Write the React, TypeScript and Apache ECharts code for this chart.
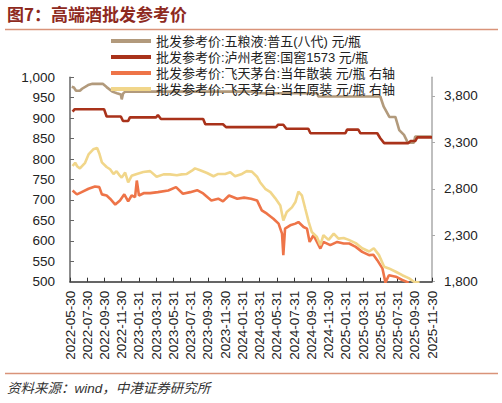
import React, { useEffect, useRef } from "react";
import * as echarts from "echarts";

// x positions are months since 2022-05-30
const tickLabels = [
  "2022-05-30", "2022-07-30", "2022-09-30", "2022-11-30",
  "2023-01-31", "2023-03-31", "2023-05-31", "2023-07-31", "2023-09-30", "2023-11-30",
  "2024-01-31", "2024-03-31", "2024-05-31", "2024-07-31", "2024-09-30", "2024-11-30",
  "2025-01-31", "2025-03-31", "2025-05-31", "2025-07-31", "2025-09-30", "2025-11-30",
];

const seriesNames = [
  "批发参考价:五粮液:普五(八代) 元/瓶",
  "批发参考价:泸州老窖:国窖1573 元/瓶",
  "批发参考价:飞天茅台:当年散装 元/瓶 右轴",
  "批发参考价:飞天茅台:当年原装 元/瓶 右轴",
];

const wuliangye: [number, number][] = [
  [0.2, 977], [0.45, 975], [0.7, 967], [1.15, 967], [1.4, 972], [2.1, 981], [2.6, 984],
  [3.8, 984], [4.25, 976], [4.9, 965], [5.45, 961], [5.9, 958], [6.0, 946], [6.15, 960],
  [6.4, 965], [21.5, 965], [21.6, 961], [28.7, 961], [28.8, 953], [36.0, 953], [36.4, 928],
  [37.05, 903], [37.75, 903], [38.2, 871], [38.75, 859], [39.15, 842], [39.5, 840],
  [39.9, 840], [40.05, 855], [42, 855],
];

const guojiao: [number, number][] = [
  [0.3, 916], [0.55, 922], [3.95, 922], [4.25, 904], [5.9, 904], [6.15, 893], [6.75, 893],
  [6.95, 902], [10.0, 902], [10.2, 908], [10.55, 898], [15.45, 898], [15.7, 885],
  [17.75, 885], [18.1, 878], [23.9, 878], [24.15, 884], [24.75, 884], [25.1, 874],
  [27.65, 874], [27.9, 863], [31.95, 863], [32.15, 872], [33.45, 872], [33.7, 863],
  [35.65, 863], [36.0, 851], [36.45, 839], [39.25, 839], [39.5, 844], [40.05, 844],
  [40.3, 853], [42, 853],
];

const feitianLoose: [number, number][] = [
  [0.3, 2782], [0.8, 2740], [1.35, 2764], [2.15, 2800], [2.9, 2825], [3.4, 2818], [3.7, 2740],
  [4.25, 2728], [4.65, 2693], [5.25, 2630], [5.8, 2675], [6.3, 2740], [6.75, 2665],
  [7.15, 2728], [7.55, 2710], [7.75, 2889], [8.0, 2728], [8.6, 2755], [9.3, 2753],
  [10.2, 2764], [11.4, 2782], [12.3, 2818], [13.1, 2746], [13.95, 2764], [14.75, 2785],
  [15.45, 2750], [16.4, 2675], [17.2, 2693], [17.75, 2664], [18.45, 2728], [19.4, 2693],
  [20.2, 2705], [21.0, 2693], [21.7, 2675], [22.25, 2568], [22.85, 2532], [23.6, 2478],
  [24.2, 2425], [24.6, 2318], [24.75, 2086], [24.95, 2371], [25.55, 2407], [26.15, 2425],
  [26.5, 2442], [27.1, 2389], [27.5, 2371], [27.8, 2228], [28.25, 2300], [29.05, 2157],
  [29.4, 2228], [30.2, 2193], [31.0, 2228], [31.75, 2211], [32.4, 2211], [33.15, 2175],
  [33.9, 2121], [34.7, 2086], [35.2, 2090], [35.65, 2032], [36.25, 1943], [36.6, 1790],
  [37.0, 1870], [37.8, 1854], [38.55, 1818], [39.3, 1790],
];

const feitianOriginal: [number, number][] = [
  [0.3, 3045], [0.6, 3080], [0.85, 3040], [1.15, 3020], [1.45, 3050], [1.75, 3080],
  [2.15, 3170], [2.7, 3225], [3.15, 3240], [3.4, 3180], [3.7, 3085], [4.25, 3035],
  [4.65, 3010], [5.05, 2960], [5.4, 2990], [5.7, 2950], [6.0, 2920], [6.4, 2975],
  [6.75, 2870], [7.15, 2940], [7.75, 2960], [8.5, 2980], [9.3, 2990], [10.05, 2930],
  [10.85, 2955], [11.6, 2955], [12.4, 2945], [12.95, 2955], [13.55, 2960], [14.15, 2995],
  [14.5, 3020], [15.1, 3000], [15.9, 2970], [16.65, 2935], [17.2, 2960], [18.0, 2960],
  [18.6, 2978], [19.15, 2935], [19.95, 2960], [20.5, 2990], [21.1, 2985], [21.7, 2930],
  [22.05, 2871], [22.65, 2800], [23.25, 2764], [23.8, 2700], [24.4, 2621], [24.75, 2460],
  [25.15, 2550], [25.75, 2600], [26.15, 2657], [26.5, 2770], [26.9, 2730], [27.3, 2585],
  [27.7, 2442], [28.05, 2335], [28.65, 2282], [29.05, 2193], [29.4, 2300], [30.0, 2250],
  [30.6, 2318], [31.15, 2264], [31.75, 2270], [32.35, 2250], [33.15, 2215], [33.9, 2160],
  [34.7, 2125], [35.25, 2160], [35.85, 2086], [36.45, 1961], [37.0, 1943], [37.8, 1907],
  [38.55, 1870], [39.35, 1836], [39.9, 1800], [40.55, 1790],
];

const colors = ["#B29A7C", "#A9321A", "#EE7448", "#F1D68A"];
const FONT = "'Liberation Sans', 'Noto Sans CJK SC', sans-serif";

export default function App() {
  const ref = useRef<HTMLDivElement>(null);
  useEffect(() => {
    if (!ref.current) return;
    const chart = echarts.init(ref.current, null, { renderer: "svg" });
    const fmt = (v: number) => v.toLocaleString("en-US");
    chart.setOption({
      animation: false,
      textStyle: { fontFamily: FONT },
      grid: { left: 70, right: 70, top: 77.3, bottom: 121.3, containLabel: false },
      legend: {
        orient: "vertical",
        left: 106,
        top: 29.5,
        itemWidth: 40,
        itemHeight: 14,
        itemGap: 3,
        icon: "path://M0,0H40V4H0Z",
        textStyle: { fontSize: 13, color: "#222", fontFamily: FONT },
        data: seriesNames,
      },
      xAxis: {
        type: "value",
        min: 0,
        max: 42,
        interval: 2,
        splitLine: { show: false },
        axisLine: { lineStyle: { color: "#333", width: 1.5 } },
        axisTick: { inside: true, length: 4, lineStyle: { color: "#333" } },
        axisLabel: {
          rotate: 90,
          fontSize: 13.5,
          color: "#222",
          margin: 9,
          formatter: (v: number) => tickLabels[Math.round(v / 2)] ?? "",
        },
      },
      yAxis: [
        {
          type: "value",
          min: 500,
          max: 1000,
          interval: 50,
          splitLine: { show: false },
          axisLine: { show: true, lineStyle: { color: "#666", width: 1.5 } },
          axisTick: { show: true, inside: true, length: 4, lineStyle: { color: "#666" } },
          axisLabel: { fontSize: 13.5, color: "#222", margin: 15, formatter: fmt },
        },
        {
          type: "value",
          min: 1800,
          max: 4000,
          interval: 500,
          position: "right",
          splitLine: { show: false },
          axisLine: { show: true, lineStyle: { color: "#aaa", width: 1.5 } },
          axisTick: { show: true, inside: false, length: 3, lineStyle: { color: "#aaa" } },
          axisLabel: {
            fontSize: 13.5,
            color: "#222",
            margin: 12,
            showMaxLabel: false,
            formatter: fmt,
          },
        },
      ],
      series: [
        { name: seriesNames[0], data: wuliangye, yAxisIndex: 0, color: colors[0] },
        { name: seriesNames[1], data: guojiao, yAxisIndex: 0, color: colors[1] },
        { name: seriesNames[2], data: feitianLoose, yAxisIndex: 1, color: colors[2] },
        { name: seriesNames[3], data: feitianOriginal, yAxisIndex: 1, color: colors[3] },
      ].map((s) => ({
        ...s,
        type: "line",
        symbol: "none",
        showSymbol: false,
        lineStyle: { width: 2.6, color: s.color },
        itemStyle: { color: s.color },
      })),
      graphic: [
        {
          type: "text",
          left: 7,
          top: 5,
          style: {
            text: "图7：高端酒批发参考价",
            fontSize: 17,
            fontWeight: "bold",
            fill: "#8E2A1E",
            fontFamily: "'Noto Sans CJK SC', sans-serif",
          },
        },
        {
          type: "line",
          shape: { x1: 5, y1: 29.5, x2: 498, y2: 29.5 },
          style: { stroke: "#D99379", lineWidth: 1.5 },
        },
        {
          type: "line",
          shape: { x1: 5, y1: 373.5, x2: 498, y2: 373.5 },
          style: { stroke: "#D99379", lineWidth: 1.5 },
        },
        {
          type: "text",
          left: 7,
          top: 382,
          style: {
            text: "资料来源：wind，中港证券研究所",
            fontSize: 13.5,
            fontStyle: "italic",
            fill: "#333",
            fontFamily: FONT,
          },
        },
      ],
    });
    return () => chart.dispose();
  }, []);
  return (
    <div
      ref={ref}
      style={{ position: "fixed", left: 0, top: 0, width: 502, height: 403, background: "#fff" }}
    />
  );
}
